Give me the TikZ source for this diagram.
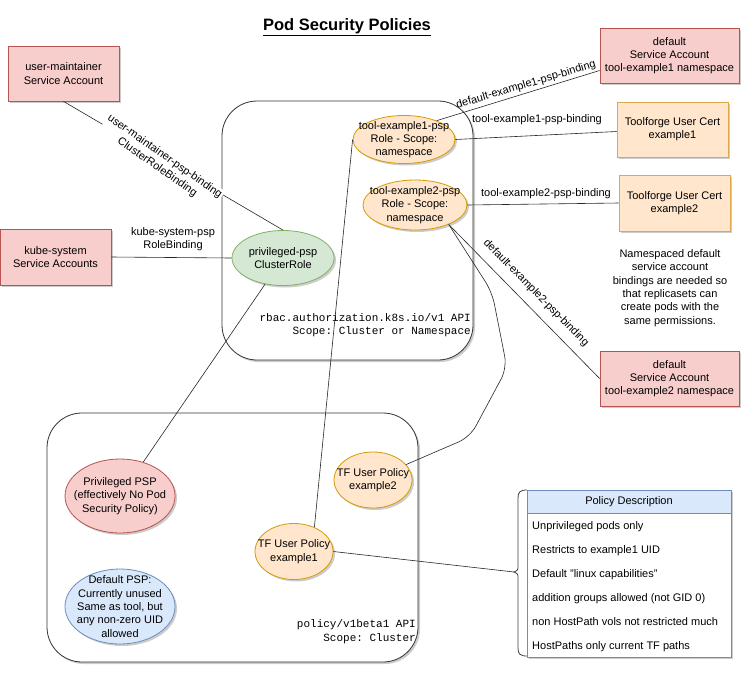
\documentclass[tikz,border=0pt]{standalone}
\usepackage{fontspec}
\setmainfont{Liberation Sans}
\setmonofont{Liberation Mono}
\usetikzlibrary{shapes.geometric,shadows}
\definecolor{redfill}{HTML}{F8CECC}
\definecolor{redline}{HTML}{B85450}
\definecolor{orfill}{HTML}{FFE6CC}
\definecolor{orline}{HTML}{D79B00}
\definecolor{boxline}{HTML}{DFA84A}
\definecolor{grfill}{HTML}{D5E8D4}
\definecolor{grline}{HTML}{82B366}
\definecolor{blfill}{HTML}{DAE8FC}
\definecolor{blline}{HTML}{6C8EBF}
\tikzset{
  base/.style={font=\fontsize{11}{13.3}\selectfont, align=center},
  sh/.style={drop shadow={shadow xshift=2pt, shadow yshift=-2pt, opacity=0.2, fill=black}},
  rbox/.style={base, rectangle, draw=redline, fill=redfill, line width=0.8pt, sh},
  obox/.style={base, rectangle, draw=boxline, fill=orfill, line width=0.8pt, sh},
  ell/.style={base, ellipse, inner sep=-25pt, line width=0.8pt, sh},
  oell/.style={ell, draw=orline, fill=orfill},
  gell/.style={ell, draw=grline, fill=grfill},
  rell/.style={ell, draw=redline, fill=redfill},
  bell/.style={ell, draw=blline, fill=blfill},
  container/.style={rectangle, draw=black!80, fill=white, rounded corners=35pt, line width=0.8pt, sh},
  mono/.style={font=\fontsize{11}{13.3}\selectfont\ttfamily, align=right, anchor=east, inner sep=0pt},
  edge/.style={draw=black!85, line width=0.6pt},
  elabel/.style={base, inner sep=1pt},
  rowtext/.style={base, anchor=base west, inner sep=0pt}
}
\begin{document}
\begin{tikzpicture}[x=1pt, y=-1pt]
\useasboundingbox[fill=white] (0,0) rectangle (750,673);

% title
\node[font=\fontsize{16.5}{20}\selectfont\bfseries, anchor=base] (title) at (347,30.5) {\underline{Pod Security Policies}};

% containers
\node[container, minimum width=251pt, minimum height=259pt] (rbac) at (347.5,230.5) {};
\node[container, minimum width=371pt, minimum height=249pt] (pol) at (232.5,537.5) {};
\node[mono] (rbact) at (471,325) {rbac.authorization.k8s.io/v1 API\\Scope: Cluster or Namespace};
\node[mono] (polt) at (416,631.5) {policy/v1beta1 API\\Scope: Cluster};

% boxes
\node[rbox, minimum width=111pt, minimum height=55pt] (um) at (63.5,73.5) {user-maintainer\\Service Account};
\node[rbox, minimum width=111pt, minimum height=56pt] (ks) at (55.5,257) {kube-system\\Service Accounts};
\node[rbox, minimum width=139pt, minimum height=55pt] (dsa1) at (669.5,55.5) {default\\Service Account\\tool-example1 namespace};
\node[obox, minimum width=111pt, minimum height=55pt] (tuc1) at (672.5,129.5) {Toolforge User Cert\\example1};
\node[obox, minimum width=111pt, minimum height=56pt] (tuc2) at (674.5,203) {Toolforge User Cert\\example2};
\node[rbox, minimum width=139pt, minimum height=55pt] (dsa2) at (669.5,378.5) {default\\Service Account\\tool-example2 namespace};

% ellipses
\node[gell, minimum width=102pt, minimum height=55pt] (priv) at (283,258) {privileged-psp\\ClusterRole};
\node[oell, minimum width=102pt, minimum height=48pt] (tex1) at (404,139.5) {tool-example1-psp\\Role - Scope:\\namespace};
\node[oell, minimum width=104pt, minimum height=50pt] (tex2) at (415,205) {tool-example2-psp\\Role - Scope:\\namespace};
\node[rell, minimum width=110pt, minimum height=74pt] (ppsp) at (120,496) {Privileged PSP\\(effectively No Pod\\Security Policy)};
\node[bell, minimum width=110pt, minimum height=75pt] (dpsp) at (120,606.5) {Default PSP:\\Currently unused\\Same as tool, but\\any non-zero UID\\allowed};
\node[oell, minimum width=78pt, minimum height=56pt] (tfu1) at (294,551.5) {TF User Policy\\example1};
\node[oell, minimum width=78pt, minimum height=56pt] (tfu2) at (373,480) {TF User Policy\\example2};

% policy description table
\node[rectangle, draw=blline, fill=white, line width=0.8pt, sh, minimum width=204pt, minimum height=167pt] (pd) at (629,573.5) {};
\node[base, rectangle, draw=blline, fill=blfill, line width=0.8pt, minimum width=204pt, minimum height=23pt] (pdh) at (629,501.5) {Policy Description};
\node[rowtext] (r1) at (532,529.5) {Unprivileged pods only};
\node[rowtext] (r2) at (532,553.5) {Restricts to example1 UID};
\node[rowtext] (r3) at (532,577.5) {Default "linux capabilities"};
\node[rowtext] (r4) at (532,601.5) {addition groups allowed (not GID 0)};
\node[rowtext] (r5) at (532,625.5) {non HostPath vols not restricted much};
\node[rowtext] (r6) at (532,649.5) {HostPaths only current TF paths};

% brace
\coordinate (brtip) at (514,572);
\draw[draw=black!75, line width=0.8pt] (527,490) .. controls (520,490) and (518,492) .. (518,498) -- (518,566) .. controls (518,570) .. (brtip) .. controls (518,574) .. (518,578) -- (518,648) .. controls (518,654) and (520,656) .. (527,656);

% note
\node[base] (note) at (670,288) {Namespaced default\\service account\\bindings are needed so\\that replicasets can\\create pods with the\\same permissions.};

% connectors
\draw[edge] (um.south) -- (priv.north);
\node[elabel, fill=white, rotate=-35] (l1) at (161,162) {user-maintainer-psp-binding\\ClusterRoleBinding};
\draw[edge] (ks.east) -- (priv.west);
\node[elabel] (l2) at (173,239) {kube-system-psp\\RoleBinding};
\draw[edge] (priv) -- (ppsp);
\draw[edge] (tex1.west) -- (tfu1.50);
\draw[edge] (tex1.30) -- ([yshift=-15pt]dsa1.west);
\node[elabel, rotate=16.6] (l3) at (526,85) {default-example1-psp-binding};
\draw[edge] (tex1.east) -- ([yshift=-2pt]tuc1.west);
\node[elabel] (l4) at (537,120) {tool-example1-psp-binding};
\draw[edge] (tex2.east) -- (tuc2.west);
\node[elabel] (l5) at (546,194) {tool-example2-psp-binding};
\draw[edge] (tex2.-30) -- (dsa2.west);
\node[elabel, rotate=-45.4] (l6) at (536,293) {default-example2-psp-binding};
\draw[edge, rounded corners=12pt] (tex2.-30) -- (492,292) -- (507,368) -- (470,437) -- (tfu2.25);
\draw[edge] (tfu1.east) -- (brtip);
\end{tikzpicture}
\end{document}
